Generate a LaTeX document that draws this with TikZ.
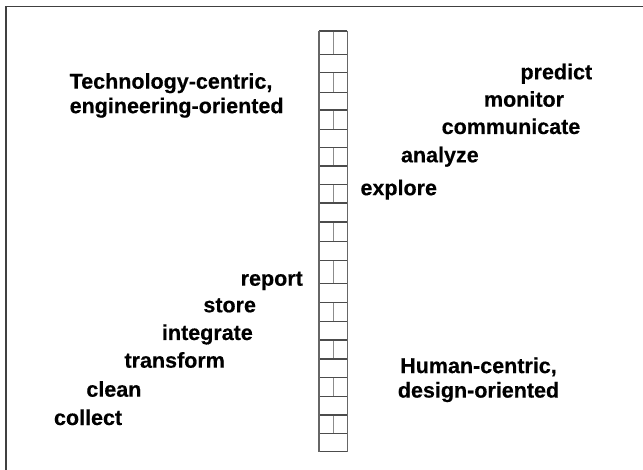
\documentclass[tikz,border=0pt]{standalone}
\usepackage{fontspec}
\setmainfont{Liberation Sans}
\newfontfamily\heavyfont{Liberation Sans Bold}[FakeBold=0.4]
\begin{document}
\begin{tikzpicture}[x=1pt,y=-1pt,
  lbl/.style={anchor=base west,inner sep=0pt,font=\fontsize{21.5}{24.5}\selectfont\heavyfont},
  blk/.style={inner sep=0pt,font=\fontsize{21.5}{24.5}\selectfont\heavyfont},
  frame/.style={draw=black!75,line width=1.6pt},
  rung/.style={draw=black!70,line width=1.4pt},
  side/.style={draw=black!60,line width=1.4pt},
  divider/.style={draw=black!45,line width=0.8pt}]
\useasboundingbox (0,0) rectangle (643,470);
\fill[white] (0,0) rectangle (643,470);
% frame
\coordinate (ftr) at (643,6.7);
\coordinate (ftl) at (5.7,6.7);
\coordinate (fbl) at (5.7,470);
\draw[frame] (ftr) -- (ftl) -- (fbl);
% ladder
\def\ladL{319}\def\ladR{347.3}\def\ladM{333.3}
\foreach \a/\b in {31/54.3,72.7/92.3,110/129.3,147.7/166,184.3/203,222/241.7,260.7/283.7,302.7/321.7,340/359,377.7/396.7,415/433.3}{
  \draw[divider] (\ladM,\a) -- (\ladM,\b);
}
\foreach \y in {31,54.3,72.7,92.3,110,129.3,147.7,166,184.3,203,222,241.7,260.7,283.7,302.7,321.7,340,359,377.7,396.7,415,433.3,451.7}{
  \draw[rung] (\ladL,\y) -- (\ladR,\y);
}
\draw[side] (\ladL,31) -- (\ladL,451.7);
\draw[side] (\ladR,31) -- (\ladR,451.7);
% block labels
\node[blk,anchor=north west,align=left] (tech) at (69.5,72.9) {Technology-centric,\\engineering-oriented};
\node[blk,anchor=north,align=center] (human) at (478.5,357.3) {Human-centric,\\design-oriented};
% right words
\node[lbl] (predict) at (520.3,79.3) {predict};
\node[lbl] (monitor) at (483.8,106.7) {monitor};
\node[lbl] (communicate) at (441.5,134) {communicate};
\node[lbl] (analyze) at (400.8,162.3) {analyze};
\node[lbl] (explore) at (360.3,195.2) {explore};
% left words
\node[lbl] (report) at (240.5,285.7) {report};
\node[lbl] (store) at (203.2,312.3) {store};
\node[lbl] (integrate) at (161.8,340) {integrate};
\node[lbl] (transform) at (124.3,367.7) {transform};
\node[lbl] (clean) at (86.2,396.7) {clean};
\node[lbl] (collect) at (53.8,425) {collect};
\end{tikzpicture}
\end{document}
